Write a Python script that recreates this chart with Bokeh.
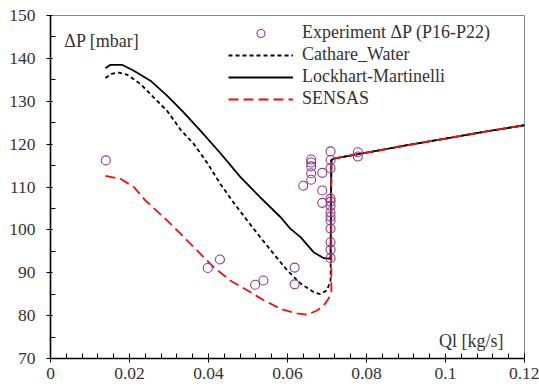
from bokeh.plotting import figure
from bokeh.models import FixedTicker, Legend, LegendItem, Label, Range1d
from bokeh.embed import file_html
from bokeh.resources import INLINE

# ---- data ----
exp_ql = [0.014, 0.0398, 0.0429, 0.0518, 0.0539, 0.0618, 0.0618, 0.064,
          0.066, 0.066, 0.066, 0.066, 0.066, 0.0688, 0.0688, 0.0688,
          0.0709, 0.0709, 0.0709, 0.0709, 0.0709, 0.0709, 0.0709, 0.0709,
          0.0709, 0.0709, 0.0709, 0.0709, 0.0709, 0.0778, 0.0778]
exp_dp = [116.2, 91.1, 93.1, 87.2, 88.2, 91.2, 87.3, 110.3,
          116.4, 115.7, 114.8, 113.2, 111.7, 113.3, 109.2, 106.3,
          118.3, 116.3, 114.4, 107.3, 106.6, 105.6, 104.1, 103.1,
          102.2, 100.3, 97.1, 95.4, 93.4, 118.1, 117.1]

cw_ql = [0.0139, 0.0155, 0.0173, 0.0194, 0.0228, 0.0261, 0.0295, 0.0329, 0.0363,
         0.0397, 0.043, 0.0464, 0.0498, 0.0531, 0.0565, 0.0599, 0.0633, 0.0666,
         0.0683, 0.0700, 0.0709, 0.0711, 0.0716, 0.08, 0.09, 0.10, 0.11, 0.12]
cw_dp = [135.4, 136.4, 136.7, 136.2, 134.0, 130.9, 127.8, 123.4, 120.0,
         115.6, 110.7, 106.3, 102.2, 98.3, 94.4, 90.6, 87.5, 85.5,
         85.0, 85.9, 88.2, 116.3, 116.6, 118.0, 119.7, 121.3, 122.9, 124.4]

lm_ql = [0.0139, 0.0152, 0.0181, 0.0211, 0.0253, 0.0295, 0.0337, 0.038, 0.0428,
         0.0481, 0.0531, 0.0582, 0.0607, 0.0633, 0.0666, 0.0692, 0.0704, 0.0709,
         0.0711, 0.0716, 0.08, 0.09, 0.10, 0.11, 0.12]
lm_dp = [137.7, 138.5, 138.5, 137.1, 134.8, 131.3, 127.4, 123.1, 118.1,
         112.3, 107.6, 103.0, 100.3, 98.3, 94.8, 93.4, 93.3, 93.5,
         116.3, 116.6, 118.0, 119.7, 121.3, 122.9, 124.4]

se_ql = [0.0139, 0.0177, 0.0211, 0.024, 0.0295, 0.0329, 0.0371, 0.0413, 0.0455,
         0.0498, 0.054, 0.0582, 0.0624, 0.065, 0.0675, 0.0692, 0.0704, 0.0711,
         0.0711, 0.0716, 0.08, 0.09, 0.10, 0.11, 0.12]
se_dp = [112.6, 111.9, 110.0, 106.9, 102.2, 99.1, 95.2, 91.3, 88.2,
         85.9, 83.6, 81.6, 80.5, 80.2, 81.2, 82.4, 84.0, 85.5,
         116.3, 116.6, 118.0, 119.7, 121.3, 122.9, 124.4]

x_ticks = [0, 0.02, 0.04, 0.06, 0.08, 0.1, 0.12]
x_tick_labels = ["0", "0.02", "0.04", "0.06", "0.08", "0.1", "0.12"]
y_ticks = [70, 80, 90, 100, 110, 120, 130, 140, 150]

FONT = "Liberation Serif"
TXT = "#333333"

p = figure(width=539, height=388, output_backend="svg", toolbar_location=None,
           x_range=Range1d(0, 0.12), y_range=Range1d(70, 150),
           min_border_left=50, min_border_right=15, min_border_top=15,
           min_border_bottom=30)
p.xgrid.visible = False
p.ygrid.visible = False
p.outline_line_color = "#888888"
p.outline_line_width = 1

r_cw = p.line(cw_ql, cw_dp, line_color="black", line_width=1.8, line_dash="4 3")
r_lm = p.line(lm_ql, lm_dp, line_color="black", line_width=1.8)
r_se = p.line(se_ql, se_dp, line_color="#f01010", line_width=1.8, line_dash="10 5")
r_ex = p.scatter(exp_ql, exp_dp, marker="circle", size=9, fill_color=None,
                 line_color="#8a3b8f", line_width=1.1)

for ax in (p.xaxis[0], p.yaxis[0]):
    ax.axis_line_color = "black"
    ax.axis_line_width = 1.6
    ax.major_tick_line_color = "black"
    ax.minor_tick_line_color = "black"
    ax.major_tick_out = 4
    ax.major_tick_in = 2
    ax.minor_tick_in = 5
    ax.minor_tick_out = 0
    ax.major_label_text_font = FONT
    ax.major_label_text_font_size = "17.5px"
    ax.major_label_text_color = TXT

minor_x = [i * 0.004 for i in range(31)]
p.xaxis[0].ticker = FixedTicker(ticks=x_ticks, minor_ticks=minor_x)
p.xaxis[0].major_label_overrides = {t: l for t, l in zip(x_ticks, x_tick_labels)}
p.xaxis[0].major_label_standoff = 5
p.yaxis[0].ticker = FixedTicker(ticks=y_ticks, minor_ticks=[75 + 10 * i for i in range(8)])
p.yaxis[0].major_label_standoff = 11

p.add_layout(Label(x=0.0035, y=144.0, text="ΔP [mbar]", text_font=FONT,
                   text_font_size="18px", text_color=TXT, text_baseline="alphabetic"))
p.add_layout(Label(x=0.1147, y=74.0, text="Ql [kg/s]", text_font=FONT,
                   text_font_size="18px", text_color=TXT, text_align="right",
                   text_baseline="alphabetic"))

legend = Legend(items=[
    LegendItem(label="Experiment ΔP (P16-P22)", renderers=[r_ex]),
    LegendItem(label="Cathare_Water", renderers=[r_cw]),
    LegendItem(label="Lockhart-Martinelli", renderers=[r_lm]),
    LegendItem(label="SENSAS", renderers=[r_se]),
], location=(178, 249), label_text_font=FONT, label_text_font_size="18px",
    label_text_color=TXT, glyph_width=65, glyph_height=20, label_height=20,
    spacing=1, padding=0, margin=0, label_standoff=9,
    border_line_alpha=0, background_fill_alpha=0)
p.add_layout(legend)

open("out.html", "w").write(file_html(p, INLINE))
